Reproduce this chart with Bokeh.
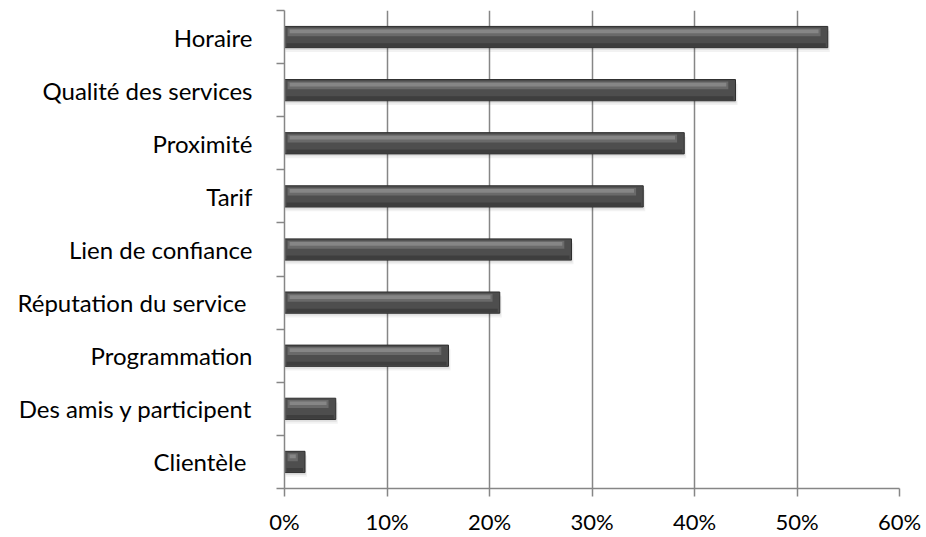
import numpy as np
from bokeh.plotting import figure
from bokeh.models import FixedTicker, NumeralTickFormatter, Range1d
from bokeh.embed import file_html
from bokeh.resources import INLINE

categories = ["Horaire", "Qualité des services", "Proximité", "Tarif",
              "Lien de confiance", "Réputation du service ", "Programmation",
              "Des amis y participent", "Clientèle "]
values = [0.53, 0.44, 0.39, 0.35, 0.28, 0.21, 0.16, 0.05, 0.02]
x_ticks = [0.0, 0.1, 0.2, 0.3, 0.4, 0.5, 0.6]

n = len(categories)
centers = [n - i - 0.5 for i in range(n)]
bounds = list(range(n + 1))

FONT = "Lato"
p = figure(width=926, height=537, output_backend="svg", toolbar_location=None,
           x_range=Range1d(0, 0.6), y_range=Range1d(0, n),
           min_border_left=284, min_border_right=27, min_border_top=10,
           min_border_bottom=48)
p.outline_line_color = None
p.background_fill_color = "white"

bh = 0.4
vals = np.array(values)
cy = np.array(centers)

# shadows
p.hbar(y=cy - 0.08, left=0.001, right=vals + 0.002, height=bh, fill_color="#000000",
       fill_alpha=0.05, line_color=None)
p.hbar(y=cy - 0.045, left=0.001, right=vals + 0.001, height=bh, fill_color="#000000",
       fill_alpha=0.07, line_color=None)
# base bar
p.hbar(y=cy, left=0, right=vals, height=bh, fill_color="#4e4e4e",
       line_color="#2e2e2e", line_width=1)
# highlight strips
p.hbar(y=cy + bh / 2 - 0.11, left=0.003, right=vals - 0.007, height=0.15,
       fill_color="#6a6a6a", line_color=None)
p.hbar(y=cy + bh / 2 - 0.095, left=0.005, right=vals - 0.009, height=0.07,
       fill_color="#868686", line_color=None)
p.hbar(y=cy - bh / 2 + 0.05, left=0.002, right=vals - 0.002, height=0.07,
       fill_color="#3e3e3e", line_color=None)

# grid
p.ygrid.visible = False
p.xgrid.ticker = FixedTicker(ticks=x_ticks)
p.xgrid.grid_line_color = "#868686"
p.xgrid.grid_line_width = 1.5
p.xgrid.level = "underlay"

# x axis
xa = p.xaxis[0]
xa.ticker = FixedTicker(ticks=x_ticks)
xa.formatter = NumeralTickFormatter(format="0%")
xa.axis_line_color = "#868686"
xa.axis_line_width = 1.5
xa.major_tick_line_color = "#868686"
xa.major_tick_line_width = 1.5
xa.major_tick_in = 0
xa.major_tick_out = 8
xa.minor_tick_line_color = None
xa.major_label_text_font = FONT
xa.major_label_text_font_size = "22px"
xa.major_label_text_color = "black"
xa.major_label_standoff = 11

# y axis
ya = p.yaxis[0]
ya.ticker = FixedTicker(ticks=centers, minor_ticks=bounds)
ya.major_label_overrides = {c: lab for c, lab in zip(centers, categories)}
ya.axis_line_color = "#868686"
ya.axis_line_width = 1.5
ya.major_tick_in = 0
ya.major_tick_out = 0
ya.major_tick_line_color = None
ya.minor_tick_line_color = "#868686"
ya.minor_tick_line_width = 1.5
ya.minor_tick_in = 0
ya.minor_tick_out = 8
ya.major_label_text_font = FONT
ya.major_label_text_font_size = "24px"
ya.major_label_text_color = "black"
ya.major_label_standoff = 24

open("out.html", "w").write(file_html(p, INLINE))
